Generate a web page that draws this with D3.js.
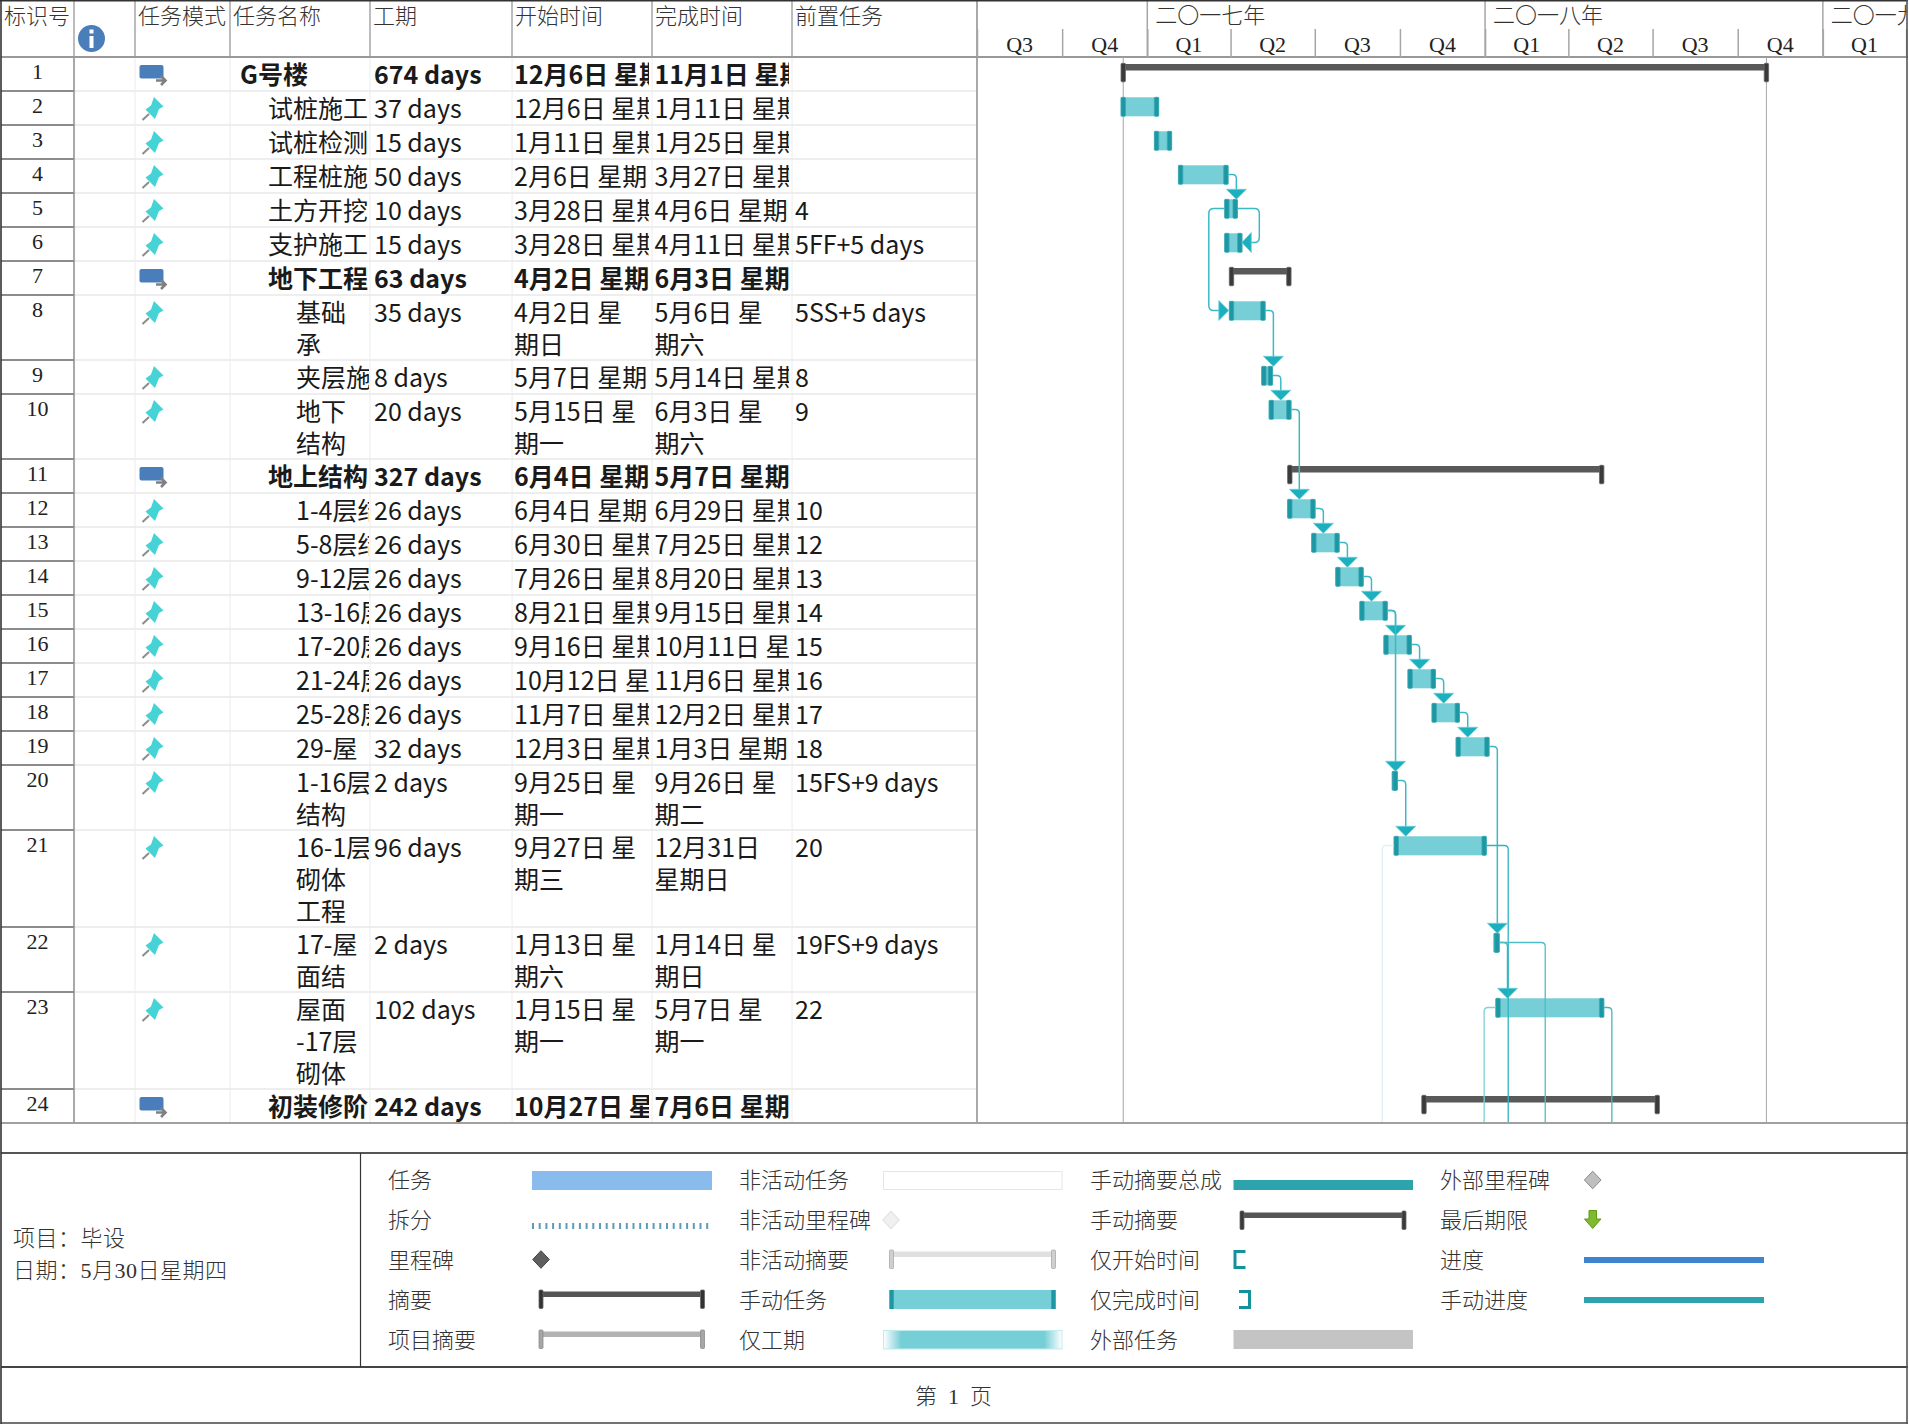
<!DOCTYPE html>
<html>
<head>
<meta charset="utf-8">
<script src="https://cdn.jsdelivr.net/npm/d3@7"></script>
<style>
  body { margin: 0; background: #fff; }
  svg { display: block; }
  text { font-family: "Noto Sans CJK SC", sans-serif; fill: #1a1a1a; }
  .serif { font-family: "Liberation Serif", "Noto Sans CJK SC", serif; fill: #222; }
  .thin { font-family: "Liberation Serif", "Noto Sans CJK SC", serif; font-weight: 300; fill: #333; }
</style>
</head>
<body>
<div id="chart"></div>
<script>
// lines of a wrapped cell are split by "|"; cells hold what the narrow columns let show
var taskNames = ["G号楼", "试桩施工", "试桩检测", "工程桩施", "土方开挖", "支护施工", "地下工程", "基础|承",
  "夹层施", "地下|结构", "地上结构", "1-4层结", "5-8层结", "9-12层", "13-16层", "17-20层",
  "21-24层", "25-28层", "29-屋", "1-16层|结构", "16-1层|砌体|工程", "17-屋|面结", "屋面|-17层|砌体", "初装修阶"];
var taskLevels = [0, 1, 1, 1, 1, 1, 1, 2, 2, 2, 1, 2, 2, 2, 2, 2, 2, 2, 2, 2, 2, 2, 2, 1];
var summaryRows = [1, 7, 11, 24];
var durations = ["674 days", "37 days", "15 days", "50 days", "10 days", "15 days", "63 days", "35 days", "8 days", "20 days",
  "327 days", "26 days", "26 days", "26 days", "26 days", "26 days", "26 days", "26 days", "32 days", "2 days", "96 days",
  "2 days", "102 days", "242 days"];
var startLabels = ["12月6日 星期", "12月6日 星期", "1月11日 星期", "2月6日 星期", "3月28日 星期", "3月28日 星期", "4月2日 星期",
  "4月2日 星|期日", "5月7日 星期", "5月15日 星|期一", "6月4日 星期", "6月4日 星期", "6月30日 星期", "7月26日 星期",
  "8月21日 星期", "9月16日 星期", "10月12日 星", "11月7日 星期", "12月3日 星期", "9月25日 星|期一", "9月27日 星|期三",
  "1月13日 星|期六", "1月15日 星|期一", "10月27日 星"];
var finishLabels = ["11月1日 星期", "1月11日 星期", "1月25日 星期", "3月27日 星期", "4月6日 星期", "4月11日 星期", "6月3日 星期",
  "5月6日 星|期六", "5月14日 星期", "6月3日 星|期六", "5月7日 星期", "6月29日 星期", "7月25日 星期", "8月20日 星期",
  "9月15日 星期", "10月11日 星", "11月6日 星期", "12月2日 星期", "1月3日 星期", "9月26日 星|期二", "12月31日|星期日",
  "1月14日 星|期日", "5月7日 星|期一", "7月6日 星期"];
var predLabels = ["", "", "", "", "4", "5FF+5 days", "", "5SS+5 days", "8", "9", "", "10", "12", "13", "14", "15", "16", "17", "18",
  "15FS+9 days", "20", "19FS+9 days", "22", ""];
var startDates = ["2016-12-06", "2016-12-06", "2017-01-11", "2017-02-06", "2017-03-28", "2017-03-28", "2017-04-02", "2017-04-02",
  "2017-05-07", "2017-05-15", "2017-06-04", "2017-06-04", "2017-06-30", "2017-07-26", "2017-08-21", "2017-09-16", "2017-10-12",
  "2017-11-07", "2017-12-03", "2017-09-25", "2017-09-27", "2018-01-13", "2018-01-15", "2017-10-27"];
var finishDates = ["2018-11-01", "2017-01-11", "2017-01-25", "2017-03-27", "2017-04-06", "2017-04-11", "2017-06-03", "2017-05-06",
  "2017-05-14", "2017-06-03", "2018-05-07", "2017-06-29", "2017-07-25", "2017-08-20", "2017-09-15", "2017-10-11", "2017-11-06",
  "2017-12-02", "2018-01-03", "2017-09-26", "2017-12-31", "2018-01-14", "2018-05-07", "2018-07-06"];

// task links: [from, to, type]
var links = [[4, 5, "FS"], [5, 6, "FF"], [5, 8, "SS"], [8, 9, "FS"], [9, 10, "FS"], [10, 12, "FS"], [12, 13, "FS"], [13, 14, "FS"],
  [14, 15, "FS"], [15, 16, "FS"], [16, 17, "FS"], [17, 18, "FS"], [18, 19, "FS"], [15, 20, "FS"], [20, 21, "FS"], [19, 22, "FS"], [22, 23, "FS"]];
// links that run off the bottom of the page: [from, side, date of the vertical, colour]
var offPageLinks = [[21, "S", "2017-09-12", "#dff3f5"], [21, "F", "2018-01-26", "#2fb3c0"], [22, "F", "2018-03-07", "#4cbdc9"],
  [23, "S", "2017-12-31", "#7fd0d8"], [23, "F", "2018-05-18", "#45b5c2"]];

var columnHeaders = ["标识号", "", "任务模式", "任务名称", "工期", "开始时间", "完成时间", "前置任务"];
var columnEdges = [1, 74, 135, 230, 370, 512, 652, 792, 977];
var yearLabels = ["二〇一七年", "二〇一八年", "二〇一九"];
var yearStarts = ["2017-01-01", "2018-01-01", "2019-01-01"];
var timelineRange = ["2016-07-01", "2019-04-03"];
var deadlines = ["2016-12-06", "2018-11-01"];
var legendLabels = [
  ["任务", "拆分", "里程碑", "摘要", "项目摘要"],
  ["非活动任务", "非活动里程碑", "非活动摘要", "手动任务", "仅工期"],
  ["手动摘要总成", "手动摘要", "仅开始时间", "仅完成时间", "外部任务"],
  ["外部里程碑", "最后期限", "进度", "手动进度"]
];
var projectLines = ["项目：毕设", "日期：5月30日星期四"];

var W = 1909, H = 1424;
var headerBottom = 57, tableBottom = 1123;
var parseDate = d3.timeParse("%Y-%m-%d");

var svg = d3.select("#chart").append("svg").attr("width", W).attr("height", H);
var defs = svg.append("defs");

var x = d3.scaleTime().domain(timelineRange.map(parseDate)).range([977, 1908]);

// row tops
var rowHeights = taskNames.map(function (d, i) {
  var n = d3.max([taskNames[i], startLabels[i], finishLabels[i]], function (s) { return s.split("|").length; });
  return Math.floor(34 + 31.5 * (n - 1));
});
var rowTops = [headerBottom].concat(Array.from(d3.cumsum(rowHeights), function (h) { return headerBottom + h; }));
rowTops[20] = 830; rowTops[21] = 927; rowTops[22] = 992; rowTops[23] = 1089;

var tasks = taskNames.map(function (d, i) {
  return {
    id: i + 1, name: d, level: taskLevels[i], summary: summaryRows.indexOf(i + 1) >= 0,
    dur: durations[i], startLabel: startLabels[i], finishLabel: finishLabels[i], pred: predLabels[i],
    start: parseDate(startDates[i]), finish: parseDate(finishDates[i]), top: rowTops[i], h: rowHeights[i]
  };
});
function taskById(id) { return tasks[id - 1]; }
function midY(t) { return t.top + 15.5; }

// ---- table grid
var grid = svg.append("g");
tasks.forEach(function (t) {
  var yLine = t.top + t.h;
  grid.append("line").attr("x1", 74).attr("x2", 977).attr("y1", yLine).attr("y2", yLine)
    .attr("stroke", "#eeeeee").attr("stroke-width", 2);
  grid.append("line").attr("x1", 1).attr("x2", 74).attr("y1", yLine).attr("y2", yLine)
    .attr("stroke", "#8c8c8c").attr("stroke-width", 2);
});
columnEdges.slice(1, 8).forEach(function (c, i) {
  grid.append("line").attr("x1", c).attr("x2", c).attr("y1", 1).attr("y2", headerBottom)
    .attr("stroke", "#a6a6a6").attr("stroke-width", 1.5);
  grid.append("line").attr("x1", c).attr("x2", c).attr("y1", headerBottom).attr("y2", tableBottom)
    .attr("stroke", i == 0 ? "#8c8c8c" : "#ececec").attr("stroke-width", i == 0 ? 1.5 : 1);
});
grid.append("line").attr("x1", 977).attr("x2", 977).attr("y1", 1).attr("y2", tableBottom)
  .attr("stroke", "#8c8c8c").attr("stroke-width", 1.5);
grid.append("line").attr("x1", 1).attr("x2", 1908).attr("y1", headerBottom).attr("y2", headerBottom)
  .attr("stroke", "#999").attr("stroke-width", 2);

// ---- header text
columnHeaders.forEach(function (h, i) {
  if (!h) return;
  svg.append("text").attr("class", "thin").attr("x", columnEdges[i] + 3).attr("y", 16).attr("dy", "0.36em")
    .attr("font-size", 22).text(h);
});

// info icon
svg.append("circle").attr("cx", 91.5).attr("cy", 38.5).attr("r", 13.5).attr("fill", "#4a7ebb");
svg.append("rect").attr("x", 89.5).attr("y", 36).attr("width", 4).attr("height", 12).attr("fill", "#fff");
svg.append("rect").attr("x", 89.5).attr("y", 29.5).attr("width", 4).attr("height", 4).attr("fill", "#fff");

// ---- timeline header, drawn with a d3 axis
var quarters = d3.timeMonth.range(x.domain()[0], x.domain()[1], 3);
var quarterAxis = d3.axisTop(x).tickValues(quarters).tickSize(28).tickFormat("");
svg.append("g").attr("transform", "translate(0," + headerBottom + ")").call(quarterAxis)
  .call(function (g) { g.select(".domain").remove(); })
  .call(function (g) { g.selectAll(".tick line").attr("stroke", "#a6a6a6").attr("stroke-width", 1.5); });

quarters.forEach(function (q) {
  var next = d3.timeMonth.offset(q, 3);
  // the last quarter only just starts at the page edge and has no room for a label
  if (x(next) - x.range()[1] > 20) return;
  var cx = (x(q) + Math.min(x(next), x.range()[1])) / 2;
  svg.append("text").attr("class", "serif").attr("x", cx).attr("y", 44.5).attr("dy", "0.34em")
    .attr("text-anchor", "middle").attr("font-size", 22).text("Q" + (Math.floor(q.getMonth() / 3) + 1));
});

defs.append("clipPath").attr("id", "clip-years").append("rect").attr("x", 977).attr("y", 0).attr("width", 930).attr("height", 60);
var yearG = svg.append("g").attr("clip-path", "url(#clip-years)");
yearStarts.forEach(function (d, i) {
  var px = x(parseDate(d));
  svg.append("line").attr("x1", px).attr("x2", px).attr("y1", 1).attr("y2", headerBottom)
    .attr("stroke", "#a6a6a6").attr("stroke-width", 1.5);
  yearG.append("text").attr("class", "thin").attr("x", px + 8).attr("y", 15).attr("dy", "0.36em")
    .attr("font-size", 22).text(yearLabels[i]);
});

// ---- table body
function addCell(col, key) {
  var id = "clip-col-" + col;
  var right = col == 3 ? columnEdges[4] - 1 : columnEdges[col + 1] - 3;
  defs.append("clipPath").attr("id", id).append("rect").attr("x", columnEdges[col]).attr("y", headerBottom)
    .attr("width", right - columnEdges[col]).attr("height", tableBottom - headerBottom);
  var g = svg.append("g").attr("clip-path", "url(#" + id + ")");
  tasks.forEach(function (t) {
    var lines = key(t).text.split("|");
    lines.forEach(function (line, k) {
      g.append("text").attr("x", key(t).x).attr("y", t.top + 17.5 + 32 * k).attr("dy", "0.36em")
        .attr("font-size", 25).attr("font-weight", t.summary ? 700 : 400).style("white-space", "pre").text(line);
    });
  });
}
addCell(3, function (t) { return { text: t.name, x: 240 + 28 * t.level }; });
addCell(4, function (t) { return { text: t.dur, x: 374 }; });
addCell(5, function (t) { return { text: t.startLabel, x: 514 }; });
addCell(6, function (t) { return { text: t.finishLabel, x: 654.5 }; });
addCell(7, function (t) { return { text: t.pred, x: 795 }; });

tasks.forEach(function (t) {
  svg.append("text").attr("class", "serif").attr("x", 37.5).attr("y", t.top + 15).attr("dy", "0.34em")
    .attr("text-anchor", "middle").attr("font-size", 22).text(t.id);
});

// task mode icons
tasks.forEach(function (t) {
  var g = svg.append("g").attr("transform", "translate(135," + t.top + ")");
  if (t.summary) {
    g.append("rect").attr("x", 4.5).attr("y", 8).attr("width", 24).attr("height", 13.5).attr("rx", 2).attr("fill", "#4a7ebb");
    g.append("path").attr("d", "M21,23.5H30.5M26,19L30.5,23.5L26,28").attr("fill", "none").attr("stroke", "#808080").attr("stroke-width", 2.6);
  } else {
    g.append("line").attr("x1", 7.5).attr("y1", 29).attr("x2", 14).attr("y2", 23).attr("stroke", "#8c8c8c").attr("stroke-width", 2);
    g.append("path").attr("d", "M19,6L28.5,15.5L24,18L20,28L10.5,18.5L16,14.5Z").attr("fill", "#45d3d6");
  }
});

// ---- gantt marks
deadlines.forEach(function (d) {
  svg.append("line").attr("x1", x(parseDate(d))).attr("x2", x(parseDate(d))).attr("y1", headerBottom).attr("y2", tableBottom)
    .attr("stroke", "#a6a6a6").attr("stroke-width", 1);
});

var barG = svg.append("g");
function drawCaps(g, x1, x2, y, h, fill, stroke) {
  [x1, x2].forEach(function (c) {
    g.append("rect").attr("x", c - 2.2).attr("y", y).attr("width", 4.4).attr("height", h).attr("rx", 1)
      .attr("fill", fill).attr("stroke", stroke).attr("stroke-width", 0.8);
  });
}
tasks.forEach(function (t) {
  var x1 = x(t.start), x2 = x(t.finish);
  if (t.summary) {
    barG.append("rect").attr("x", x1).attr("y", t.top + 7).attr("width", x2 - x1).attr("height", 6.5).attr("fill", "#595959");
    drawCaps(barG, x1, x2, t.top + 6.3, 18.5, "#3a3a3a", "#666");
  } else {
    barG.append("rect").attr("x", x1 - 2.5).attr("y", t.top + 6.3).attr("width", x2 - x1 + 5).attr("height", 19).attr("fill", "#76ced6");
    drawCaps(barG, x1, x2, t.top + 6.3, 19, "#1d97a3", "#3aa9b4");
  }
});

var linkG = svg.append("g").attr("fill", "none");
var linkColor = "#3db9c6", arrowColor = "#1cafbd";
function arrowX(t) {
  var days = d3.timeDay.count(t.start, t.finish);
  return days <= 1 ? (x(t.start) + x(t.finish)) / 2 + 0.7 : x(t.start) + 9.5;
}
links.forEach(function (l) {
  var a = taskById(l[0]), b = taskById(l[1]), p, tri;
  var fx = x(a.finish) + 2.5, sx = x(a.start) - 2.5, ya = midY(a), yb = midY(b);
  if (l[2] == "FS") {
    var vx = arrowX(b);
    p = "M" + fx + "," + ya + "H" + (vx - 4) + "Q" + vx + "," + ya + " " + vx + "," + (ya + 4) + "V" + (b.top - 2);
    tri = [[vx - 10, b.top - 3.7], [vx + 10, b.top - 3.7], [vx, b.top + 6.3]];
  } else if (l[2] == "FF") {
    var rx = x(b.finish) + 19.5, tip = x(b.finish) + 2;
    p = "M" + fx + "," + ya + "H" + (rx - 5) + "Q" + rx + "," + ya + " " + rx + "," + (ya + 5) + "V" + (yb - 5) + "Q" + rx + "," + yb + " " + (rx - 5) + "," + yb + "H" + (tip + 8);
    tri = [[tip + 9.5, yb - 10], [tip + 9.5, yb + 10], [tip, yb]];
  } else {
    var lx = x(b.start) - 22.7, tipS = x(b.start) - 2.7;
    p = "M" + sx + "," + ya + "H" + (lx + 5) + "Q" + lx + "," + ya + " " + lx + "," + (ya + 5) + "V" + (yb - 5) + "Q" + lx + "," + yb + " " + (lx + 5) + "," + yb + "H" + (tipS - 9);
    tri = [[tipS - 10, yb - 10], [tipS - 10, yb + 10], [tipS, yb]];
  }
  linkG.append("path").attr("d", p).attr("stroke", linkColor).attr("stroke-width", 1.5);
  linkG.append("path").attr("d", d3.line()(tri) + "Z").attr("fill", arrowColor).attr("stroke", "#6ccfd9").attr("stroke-width", 0.8);
});
offPageLinks.forEach(function (l) {
  var a = taskById(l[0]), vx = x(parseDate(l[2])), ya = midY(a);
  var from = l[1] == "F" ? x(a.finish) + 2.5 : x(a.start) - 2.5;
  var dir = vx > from ? 1 : -1;
  linkG.append("path")
    .attr("d", "M" + from + "," + ya + "H" + (vx - 4 * dir) + "Q" + vx + "," + ya + " " + vx + "," + (ya + 4) + "V" + tableBottom)
    .attr("stroke", l[3]).attr("stroke-width", 1.3);
});

// ---- frame and footer lines
svg.append("line").attr("x1", 1).attr("x2", 1908).attr("y1", tableBottom).attr("y2", tableBottom).attr("stroke", "#a0a0a0").attr("stroke-width", 2);
svg.append("line").attr("x1", 1).attr("x2", 1908).attr("y1", 1153).attr("y2", 1153).attr("stroke", "#555").attr("stroke-width", 2);
svg.append("line").attr("x1", 1).attr("x2", 1908).attr("y1", 1367).attr("y2", 1367).attr("stroke", "#444").attr("stroke-width", 2);
svg.append("line").attr("x1", 360.5).attr("x2", 360.5).attr("y1", 1153).attr("y2", 1367).attr("stroke", "#333").attr("stroke-width", 1.2);
svg.append("line").attr("x1", 0).attr("x2", 1908).attr("y1", 0.8).attr("y2", 0.8).attr("stroke", "#333").attr("stroke-width", 1.6);
svg.append("line").attr("x1", 1).attr("x2", 1908).attr("y1", 1423).attr("y2", 1423).attr("stroke", "#444").attr("stroke-width", 1.6);
svg.append("line").attr("x1", 1).attr("x2", 1).attr("y1", 0).attr("y2", H).attr("stroke", "#333").attr("stroke-width", 1.6);
svg.append("line").attr("x1", 1907).attr("x2", 1907).attr("y1", 0).attr("y2", H).attr("stroke", "#555").attr("stroke-width", 1.6);

// ---- legend
projectLines.forEach(function (d, i) {
  svg.append("text").attr("class", "thin").attr("x", 13).attr("y", 1238 + 32 * i).attr("dy", "0.36em").attr("font-size", 22).attr("letter-spacing", 0.5).text(d);
});
var legendTextX = [388, 739, 1090, 1440];
var legendRowY = [1180, 1220, 1260, 1300, 1340];
legendLabels.forEach(function (col, c) {
  col.forEach(function (d, r) {
    svg.append("text").attr("class", "thin").attr("x", legendTextX[c]).attr("y", legendRowY[r]).attr("dy", "0.36em")
      .attr("font-size", 22).text(d);
  });
});

var lg = svg.append("g");
function box(x1, x2, y, h, fill, stroke) {
  return lg.append("rect").attr("x", x1).attr("y", y).attr("width", x2 - x1).attr("height", h)
    .attr("fill", fill).attr("stroke", stroke || "none");
}
function diamond(cx, cy, fill, stroke) {
  lg.append("path").attr("d", "M" + cx + "," + (cy - 8.8) + "L" + (cx + 8.3) + "," + cy + "L" + cx + "," + (cy + 8.8) + "L" + (cx - 8.3) + "," + cy + "Z")
    .attr("fill", fill).attr("stroke", stroke);
}
function sumBar(x1, x2, y, fill, capFill, capStroke) {
  box(x1, x2, y + 1.5, 5.5, fill);
  [x1, x2].forEach(function (c) {
    lg.append("rect").attr("x", c - 2).attr("y", y).attr("width", 4).attr("height", 18.5).attr("rx", 1)
      .attr("fill", capFill).attr("stroke", capStroke).attr("stroke-width", 0.8);
  });
}
var fade = defs.append("linearGradient").attr("id", "fade");
[[0, "#ffffff"], [0.1, "#76ced6"], [0.9, "#76ced6"], [1, "#ffffff"]].forEach(function (s) {
  fade.append("stop").attr("offset", s[0]).attr("stop-color", s[1]);
});

// column 1
box(532, 712, 1171, 19, "#8abbed");
lg.append("line").attr("x1", 532).attr("x2", 712).attr("y1", 1226).attr("y2", 1226).attr("stroke", "#5f9bb8").attr("stroke-width", 6).attr("stroke-dasharray", "2,4.7");
diamond(541, 1259.5, "#5f5f5f", "#444");
sumBar(541, 702.5, 1290, "#555", "#333", "#666");
sumBar(541, 702.5, 1330, "#b3b3b3", "#a6a6a6", "#8c8c8c");
// column 2
box(883.5, 1062, 1171.5, 18, "#fff", "#e6e6e6");
diamond(891, 1220, "#f0f0f0", "#d9d9d9");
sumBar(891.5, 1053.5, 1250, "#e0e0e0", "#cfcfcf", "#aaa");
box(890, 1055.5, 1290, 19, "#76ced6");
[891.5, 1053.5].forEach(function (c) { box(c - 2.2, c + 2.2, 1290, 19, "#1d97a3"); });
box(883.5, 1062, 1330.5, 18.5, "url(#fade)", "#bfecef");
// column 3
box(1233.5, 1413, 1180, 10, "#2da4ad");
sumBar(1242, 1404, 1211, "#555", "#3a3a3a", "#666");
lg.append("path").attr("d", "M1245.5,1251.5H1235V1267.5H1245.5").attr("fill", "none").attr("stroke", "#14919b").attr("stroke-width", 3);
lg.append("path").attr("d", "M1239,1291.5H1249.5V1307.5H1239").attr("fill", "none").attr("stroke", "#14919b").attr("stroke-width", 3);
box(1233.5, 1413, 1330, 19, "#c4c4c4");
// column 4
diamond(1592.7, 1180, "#bfbfbf", "#8c8c8c");
lg.append("path").attr("d", "M1589,1210.5H1596.5V1219H1601L1592.7,1228.5L1584.5,1219H1589Z").attr("fill", "#7fba2e").attr("stroke", "#5f9a15");
box(1584, 1764, 1257, 6, "#3f84d0");
box(1584, 1764, 1297, 6, "#2da4ad");

svg.append("text").attr("class", "thin").attr("x", 953.5).attr("y", 1396).attr("dy", "0.36em").attr("text-anchor", "middle")
  .attr("font-size", 22).style("white-space", "pre").text("第  1  页");
</script>
</body>
</html>
